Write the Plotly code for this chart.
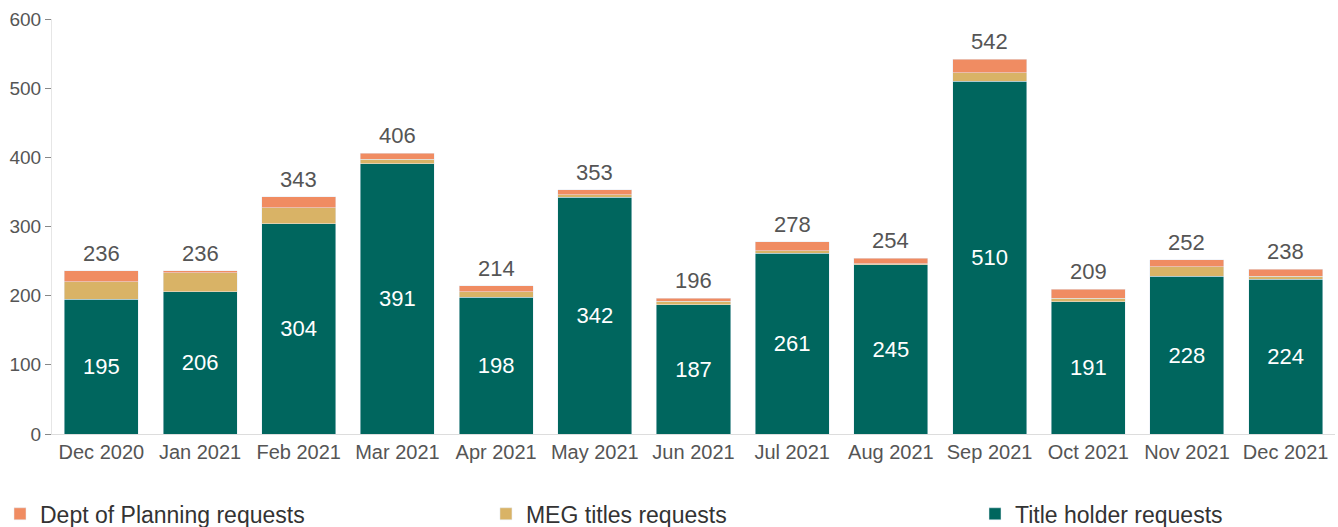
import plotly.graph_objects as go

months = ["Dec 2020", "Jan 2021", "Feb 2021", "Mar 2021", "Apr 2021", "May 2021", "Jun 2021",
          "Jul 2021", "Aug 2021", "Sep 2021", "Oct 2021", "Nov 2021", "Dec 2021"]
title_holder = [195, 206, 304, 391, 198, 342, 187, 261, 245, 510, 191, 228, 224]
meg_titles = [25, 27, 23, 6, 8, 4, 5, 4, 1, 12, 5, 14, 4]
planning = [16, 3, 16, 9, 8, 7, 4, 13, 8, 20, 13, 10, 10]
totals = [236, 236, 343, 406, 214, 353, 196, 278, 254, 542, 209, 252, 238]
y_ticks = [0, 100, 200, 300, 400, 500, 600]

TEAL = "#00665E"
TAN = "#D9B366"
ORANGE = "#F08C62"
FONT = "Liberation Sans, Arial, sans-serif"

fig = go.Figure()
fig.add_trace(go.Bar(x=months, y=title_holder, name="Title holder requests", marker_color=TEAL,
                     text=title_holder, textposition="inside", insidetextanchor="middle",
                     textfont=dict(color="white", size=22, family=FONT), textangle=0,
                     legend="legend3", showlegend=True))
fig.add_trace(go.Bar(x=months, y=meg_titles, name="MEG titles requests", marker_color=TAN,
                     textposition="none", legend="legend2", showlegend=True))
fig.add_trace(go.Bar(x=months, y=planning, name="Dept of Planning requests", marker_color=ORANGE,
                     textposition="none", legend="legend", showlegend=True))

for m, t in zip(months, totals):
    fig.add_annotation(x=m, y=t, text=str(t), showarrow=False, yanchor="bottom", yshift=3,
                       font=dict(color="#555555", size=22, family=FONT))

leg_common = dict(orientation="h", xref="container", xanchor="left",
                  yref="container", y=0.025, yanchor="middle",
                  font=dict(size=23, color="#333333", family=FONT), bgcolor="rgba(0,0,0,0)")

fig.update_layout(
    showlegend=True,
    barmode="stack",
    bargap=0.25,
    width=1338, height=527,
    margin=dict(l=52, r=3, t=19, b=93),
    plot_bgcolor="white", paper_bgcolor="white",
    font=dict(family=FONT, color="#555555"),
    legend=dict(x=0.0, visible=True, **leg_common),
    legend2=dict(x=0.3632, **leg_common),
    legend3=dict(x=0.7287, **leg_common),
    xaxis=dict(showgrid=False, showline=True, linecolor="#DDDDDD", linewidth=1, automargin=False,
               tickfont=dict(size=20, color="#555555"), ticks=""),
    yaxis=dict(range=[0, 600], tickvals=y_ticks, showgrid=False, zeroline=False, automargin=False,
               showline=True, linecolor="#E6E6E6", linewidth=1,
               ticks="outside", ticklen=6, tickcolor="#888888",
               tickfont=dict(size=19, color="#555555")),
)

fig.write_html("out.html", config={"displayModeBar": False},
               post_script="document.body.style.margin='0';document.body.style.overflow='hidden';")
